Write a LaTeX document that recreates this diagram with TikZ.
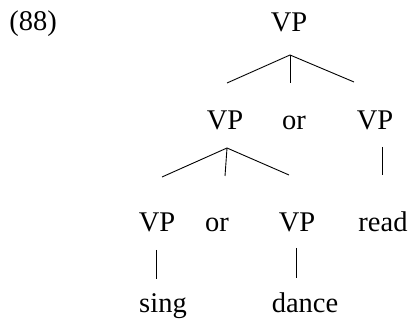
\documentclass[tikz,border=0pt]{standalone}
\usepackage{fontspec}
\setmainfont{Liberation Serif}
\usepackage{tikz}
\usetikzlibrary{positioning}

\tikzset{
    lbl/.style={anchor=base, inner sep=0pt, font=\fontsize{28.5}{34}\selectfont},
    branch/.style={line width=0.9pt}
}

\begin{document}
\begin{tikzpicture}[x=1pt, y=1pt]
            \useasboundingbox (0, 0) rectangle (411, 323);

            \node [lbl] (num) at (33, 292) {(88)};

            \node [lbl] (vp) at (289, 291) {VP};

            \node [lbl] (vpa) at (225, 193) {VP};
            \node [lbl] (ora) at (294, 193) {or};
            \node [lbl] (vpb) at (375, 193) {VP};

            \node [lbl] (vpc) at (157, 91) {VP};
            \node [lbl] (orb) at (217, 91) {or};
            \node [lbl] (vpd) at (297, 91) {VP};
            \node [lbl] (read) at (383, 91) {read};

            \node [lbl] (sing) at (163, 10) {sing};
            \node [lbl] (dance) at (305, 10) {dance};

            % upper fork
            \coordinate (topapex) at (290, 268);
            \coordinate (topl) at (227, 240);
            \coordinate (topm) at (290, 240);
            \coordinate (topr) at (354, 241);
            \draw [branch] (topapex) -- (topl);
            \draw [branch] (topapex) -- (topm);
            \draw [branch] (topapex) -- (topr);

            % lower fork
            \coordinate (lowapex) at (227, 175);
            \coordinate (lowl) at (162, 146);
            \coordinate (lowm) at (225, 147);
            \coordinate (lowr) at (289, 148);
            \draw [branch] (lowapex) -- (lowl);
            \draw [branch] (lowapex) -- (lowm);
            \draw [branch] (lowapex) -- (lowr);

            % unary branches
            \coordinate (vpbtop) at (382, 176);
            \coordinate (vpbbot) at (382, 148);
            \coordinate (vpctop) at (156, 73);
            \coordinate (vpcbot) at (156, 44);
            \coordinate (vpdtop) at (296, 75);
            \coordinate (vpdbot) at (296, 45);
            \draw [branch] (vpbtop) -- (vpbbot);
            \draw [branch] (vpctop) -- (vpcbot);
            \draw [branch] (vpdtop) -- (vpdbot);
        \end{tikzpicture}
\end{document}
